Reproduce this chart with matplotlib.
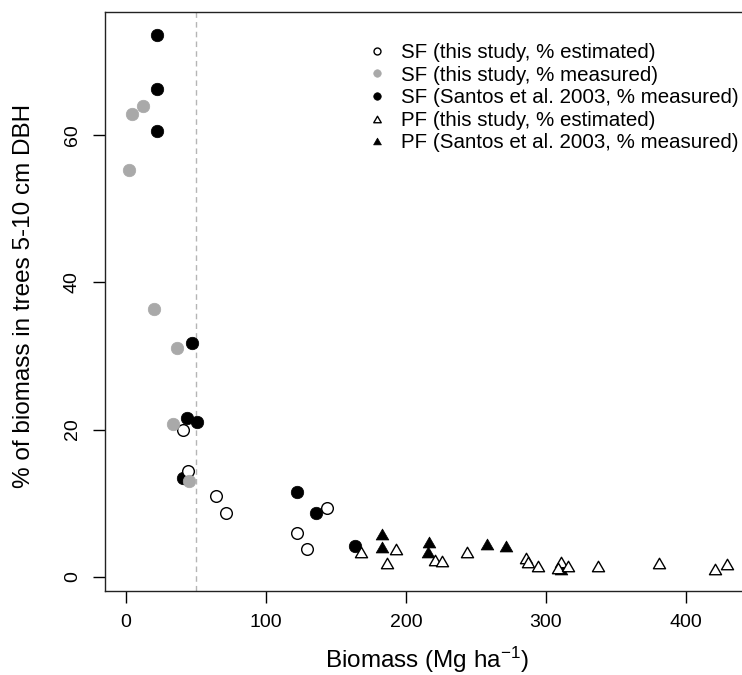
import matplotlib
matplotlib.use("Agg")
import matplotlib.pyplot as plt
from matplotlib.path import Path
import numpy as np

plt.rcParams['font.family'] = ['Liberation Sans', 'DejaVu Sans']
plt.rcParams['mathtext.fontset'] = 'custom'
plt.rcParams['mathtext.rm'] = 'Liberation Sans'
plt.rcParams['mathtext.it'] = 'Liberation Sans:italic'
plt.rcParams['mathtext.bf'] = 'Liberation Sans:bold'

# ---- data ----
sf_est_x = [40.7, 44.5, 64.4, 71.7, 122.1, 129.3, 143.6]
sf_est_y = [19.9, 14.4, 11.0, 8.6, 5.9, 3.8, 9.3]

sf_meas_x = [1.9, 4.5, 12.4, 20.0, 36.7, 33.3, 45.2]
sf_meas_y = [55.2, 62.8, 63.9, 36.4, 31.1, 20.7, 13.0]

sf_santos_x = [22.4, 22.4, 22.4, 47.4, 43.8, 50.7, 40.5, 122.4, 135.5, 163.6]
sf_santos_y = [73.6, 66.3, 60.5, 31.8, 21.5, 21.0, 13.4, 11.5, 8.7, 4.2]

pf_est_x = [168.0, 192.6, 186.2, 220.7, 226.0, 243.6, 285.5, 287.0, 294.3,
            310.5, 308.8, 315.5, 336.9, 380.5, 421.0, 429.3]
pf_est_y = [3.4, 3.8, 1.9, 2.3, 2.1, 3.4, 2.5, 2.0, 1.4,
            2.0, 1.2, 1.4, 1.45, 1.8, 1.1, 1.7]

pf_santos_x = [183.0, 183.0, 216.7, 216.0, 257.6, 271.2, 311.0]
pf_santos_y = [5.8, 4.1, 4.7, 3.4, 4.4, 4.2, 1.0]

threshold = 50

legend_labels = ["SF (this study, % estimated)",
                 "SF (this study, % measured)",
                 "SF (Santos et al. 2003, % measured)",
                 "PF (this study, % estimated)",
                 "PF (Santos et al. 2003, % measured)"]

xticks = [0, 100, 200, 300, 400]
yticks = [0, 20, 40, 60]

GREY = '#A9A9A9'
tri = Path([(-1, -0.866), (1, -0.866), (0, 0.866), (-1, -0.866)],
           [Path.MOVETO, Path.LINETO, Path.LINETO, Path.CLOSEPOLY])

W, H = 742, 675
fig = plt.figure(figsize=(W / 100, H / 100), dpi=100)
ax = fig.add_axes([105 / W, 84.3 / H, 646.8 / W, 578.7 / H])
ax.set_xlim(-15, 447)
ax.set_ylim(-1.9, 76.72)

ax.axvline(threshold, color='#b5b5b5', lw=1.0, ls=(0, (4, 3)), zorder=1)

ms_c = 9.0
ms_t = 9.1
ax.plot(sf_santos_x, sf_santos_y, ls='none', marker='o', ms=ms_c,
        mfc='black', mec='black', mew=0.5, zorder=3)
ax.plot(pf_santos_x, pf_santos_y, ls='none', marker=tri, ms=ms_t,
        mfc='black', mec='black', mew=0.5, zorder=3)
ax.plot(sf_est_x, sf_est_y, ls='none', marker='o', ms=ms_c - 0.6,
        mfc='white', mec='black', mew=1.0, zorder=4)
ax.plot(pf_est_x, pf_est_y, ls='none', marker=tri, ms=ms_t - 0.4,
        mfc='white', mec='black', mew=1.0, zorder=4)
ax.plot(sf_meas_x, sf_meas_y, ls='none', marker='o', ms=ms_c,
        mfc=GREY, mec=GREY, mew=0.5, zorder=5)

ax.set_xticks(xticks)
ax.set_yticks(yticks)
ax.tick_params(axis='both', direction='out', length=8.4, width=1.0,
               labelsize=14, color='black')
ax.tick_params(axis='x', pad=8.6)
ax.tick_params(axis='y', pad=9.0, labelrotation=90)
for lab in ax.get_yticklabels():
    lab.set_va('center')
for s in ax.spines.values():
    s.set_linewidth(1.0)
    s.set_color('#222222')

fig.text(427.3 / W, (H - 667.5) / H, r"Biomass (Mg ha$^{-1}$)",
         ha='center', va='baseline', fontsize=17.5)
fig.text(24.5 / W, 1 - 296 / H, "% of biomass in trees 5-10 cm DBH",
         ha='center', va='center', rotation=90, fontsize=17.5)

# legend drawn manually
styles = [dict(marker='o', mfc='white', mec='black', mew=1.0, ms=5.0),
          dict(marker='o', mfc=GREY, mec=GREY, mew=0.5, ms=5.4),
          dict(marker='o', mfc='black', mec='black', mew=0.5, ms=5.4),
          dict(marker=tri, mfc='white', mec='black', mew=1.0, ms=5.4),
          dict(marker=tri, mfc='black', mec='black', mew=0.5, ms=5.6)]
fs_leg = 14.8
cap = 0.716 * fs_leg * 100 / 72
for i, (lab, st) in enumerate(zip(legend_labels, styles)):
    yc = 50.7 + 22.6 * i
    ax.plot([377.3 / W], [1 - yc / H], ls='none', transform=fig.transFigure,
            clip_on=False, **st)
    fig.text(400.7 / W, 1 - (yc + cap / 2) / H, lab, ha='left', va='baseline',
             fontsize=fs_leg)

fig.savefig("out.png", dpi=100)
